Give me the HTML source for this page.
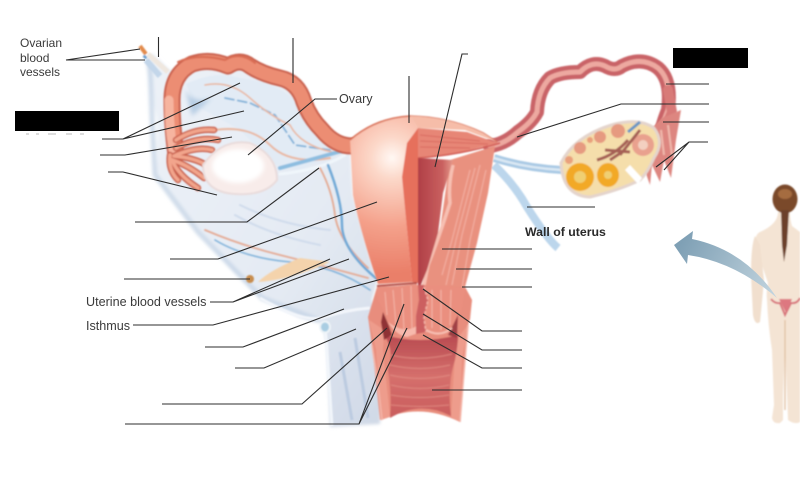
<!DOCTYPE html>
<html><head><meta charset="utf-8"><style>
html,body{margin:0;padding:0;background:#fff}
svg{display:block}
text{font-family:"Liberation Sans",sans-serif;fill:#3a3a3a}
</style></head><body>
<svg width="800" height="485" viewBox="0 0 800 485" xmlns="http://www.w3.org/2000/svg">
<defs>
<filter id="b1" x="-10%" y="-10%" width="120%" height="120%"><feGaussianBlur stdDeviation="0.7"/></filter>
<filter id="b2" x="-20%" y="-20%" width="140%" height="140%"><feGaussianBlur stdDeviation="2"/></filter>
<filter id="b3" x="-10%" y="-10%" width="120%" height="120%"><feGaussianBlur stdDeviation="1.5"/></filter>
<linearGradient id="lig" x1="0" y1="0" x2="1" y2="1"><stop offset="0" stop-color="#edf2f8"/><stop offset=".6" stop-color="#e4eaf3"/><stop offset="1" stop-color="#cfd8e6"/></linearGradient>
<radialGradient id="body" gradientUnits="userSpaceOnUse" cx="392" cy="158" r="115"><stop offset="0" stop-color="#fff8f4"/><stop offset=".18" stop-color="#fcd8c9"/><stop offset=".6" stop-color="#f4a08a"/><stop offset="1" stop-color="#ea7f69"/></radialGradient>
<linearGradient id="cav" x1="0" y1="0" x2="1" y2="0"><stop offset="0" stop-color="#b03f47"/><stop offset=".7" stop-color="#c9605f"/><stop offset="1" stop-color="#e59a8c"/></linearGradient>
<linearGradient id="arrow" gradientUnits="userSpaceOnUse" x1="680" y1="245" x2="778" y2="298"><stop offset="0" stop-color="#7fa0b5"/><stop offset="1" stop-color="#c4d6e0"/></linearGradient>
<linearGradient id="vag" x1="0" y1="0" x2="0" y2="1"><stop offset="0" stop-color="#b84a50"/><stop offset=".5" stop-color="#d56f6c"/><stop offset="1" stop-color="#c95c5c"/></linearGradient>
</defs>

<!-- broad ligament -->
<g filter="url(#b3)">
<path d="M145 62 L157 120 L157 177 L178 205 L200 232 L232 270 L262 298 L300 318 L322 324 L327 345 L330 427 L380 424 L385 330 L372 300 L377 282 L353 195 L350 148 L320 132 L300 92 L270 76 L240 66 L205 62 L180 68 L170 70 L153 53Z" fill="url(#lig)"/>
<path d="M150 64 L152 118 L155 175 L198 232 L262 298 L318 320" fill="none" stroke="#c6d5e6" stroke-width="5" opacity=".8"/>
</g>
<g filter="url(#b1)">
<path d="M325 325 L332 426" fill="none" stroke="#f2f6fb" stroke-width="3"/>
<path d="M260 298 Q300 322 322 318 Q345 310 370 308" fill="none" stroke="#f3f6fb" stroke-width="3"/>
<path d="M340 352 L352 420 M355 338 L368 418" stroke="#bccbe0" stroke-width="3" fill="none"/>
<ellipse cx="325" cy="327" rx="5" ry="5.5" fill="#a9cde2" stroke="#eef4f8" stroke-width="2"/>
<path d="M186 84 Q215 70 240 78 Q275 82 295 100 Q305 125 330 140 L345 150 L300 170 L275 165 L240 130 L195 105Z" fill="#e2ebf5"/>
<path d="M185 88 Q192 105 212 98 L192 116Z" fill="#b7cee4" filter="url(#b2)"/>
<!-- veins -->
<g fill="none" stroke-linecap="round">
<path d="M225 98 L250 103 L275 115 L295 145 L330 150" stroke="#7fb1d8" stroke-width="1.8" stroke-dasharray="9 4"/>
<path d="M205 85 Q230 80 250 98 T290 125 Q300 145 332 152" stroke="#e9b7a0" stroke-width="1.6"/>
<path d="M215 130 Q250 125 270 145 T330 158" stroke="#e9b7a0" stroke-width="2"/>
<path d="M280 168 Q310 160 345 150" stroke="#8dbde0" stroke-width="4"/>
<path d="M280 174 Q320 170 345 155" stroke="#f0f6fb" stroke-width="3"/>
<path d="M320 168 Q332 190 335 215 T368 268" stroke="#e4a991" stroke-width="1.8"/>
<path d="M328 165 Q342 200 342 225 T378 280" stroke="#6fa8d6" stroke-width="2.4"/>
<path d="M205 230 Q240 245 280 255 T368 278" stroke="#e5ab95" stroke-width="1.8"/>
<path d="M215 240 Q245 258 290 262 T370 290" stroke="#80b2da" stroke-width="1.6"/>
<path d="M240 205 Q280 225 330 230" stroke="#d0dcec" stroke-width="2"/>
<path d="M235 215 Q270 235 320 245" stroke="#d0dcec" stroke-width="2"/>
<path d="M258 282 Q290 280 330 262 L300 258 Q270 270 258 282Z" fill="#f4d3ac" stroke="none"/>
</g>
<circle cx="250" cy="279" r="4" fill="#c78c4e"/>
<path d="M140 46 L146 54" stroke="#e28a4c" stroke-width="4"/>
<path d="M144 58 L146 56" stroke="#6a9fd0" stroke-width="4"/>
<path d="M148 54 L168 72" stroke="#efe7df" stroke-width="5"/>
<path d="M146 60 L160 76" stroke="#c3d6ea" stroke-width="6"/>
</g>

<!-- left tube -->
<g filter="url(#b1)" fill="none" stroke-linecap="round" stroke-linejoin="round">
<path d="M352 146 Q335 146 322 130 Q310 118 304 102 Q298 82 280 78 Q262 74 250 66 Q240 58 228 66 Q210 58 192 64 Q172 74 172 100 Q172 125 176 155" stroke="#c9604e" stroke-width="17"/>
<path d="M352 146 Q335 146 322 130 Q310 118 304 102 Q298 82 280 78 Q262 74 250 66 Q240 58 228 66 Q210 58 192 64 Q172 74 172 100 Q172 125 176 155" stroke="#ec8d73" stroke-width="13"/>
<path d="M169 100 Q169 125 173 150" stroke="#f6b49f" stroke-width="9"/>
<path d="M178 62 Q198 53 225 60 Q240 51 255 63" stroke="#d96c52" stroke-width="2"/>
<!-- fimbriae -->
<g stroke="#c9604e" stroke-width="6.5">
<path d="M176 140 Q195 128 214 130"/><path d="M176 148 Q198 136 218 140"/><path d="M176 155 Q198 146 212 150"/><path d="M174 156 Q195 158 206 165"/><path d="M172 160 Q188 165 204 178"/><path d="M172 160 Q178 175 198 188"/><path d="M170 155 Q168 170 178 180"/>
</g>
<g stroke="#f2a58c" stroke-width="3.6">
<path d="M176 140 Q195 128 214 130"/><path d="M176 148 Q198 136 218 140"/><path d="M176 155 Q198 146 212 150"/><path d="M174 156 Q195 158 206 165"/><path d="M172 160 Q188 165 204 178"/><path d="M172 160 Q178 175 198 188"/><path d="M170 155 Q168 170 178 180"/>
</g>
</g>

<!-- left ovary -->
<path d="M203 165 Q222 138 250 143 Q277 155 277 180 Q265 196 235 194 Q203 192 203 165Z" fill="#f8ecea" stroke="#e9dcdc" stroke-width="2" filter="url(#b1)"/>
<ellipse cx="238" cy="166" rx="26" ry="17" fill="#fff" filter="url(#b2)"/>

<!-- right ligaments -->
<g filter="url(#b1)" fill="none">
<path d="M494 158 Q525 168 562 170" stroke="#a9c9e4" stroke-width="8"/>
<path d="M494 158 Q525 168 562 170" stroke="#dce9f4" stroke-width="2.5"/>
<path d="M494 165 Q515 185 527 207 Q548 240 558 248" stroke="#bcd6ec" stroke-width="8"/>
</g>

<!-- right tube -->
<g filter="url(#b1)" fill="none" stroke-linecap="round" stroke-linejoin="round">
<path d="M490 146 Q505 144 518 132 Q532 122 537 112 Q538 90 550 78 Q560 72 580 72 Q592 60 605 66 Q615 72 622 66 Q642 56 658 68 Q672 80 668 110 Q660 130 662 135" stroke="#c96468" stroke-width="14"/>
<path d="M490 146 Q505 144 518 132 Q532 122 537 112 Q538 90 550 78 Q560 72 580 72 Q592 60 605 66 Q615 72 622 66 Q642 56 658 68 Q672 80 668 110 Q660 130 662 135" stroke="#eda9a0" stroke-width="5"/>
<path d="M668 90 L672 112 L664 132" stroke="#d87a78" stroke-width="10"/>
</g>
<g filter="url(#b1)">
<path d="M662 118 L681 110 L676 140 L671 178 L664 160 L660 182 L652 165 L650 185 L644 168 L650 130Z" fill="#dd8680"/>
<path d="M668 125 L672 155 M661 130 L664 155" stroke="#f0b9ad" stroke-width="2" fill="none"/>
</g>

<!-- right ovary -->
<g filter="url(#b1)">
<path d="M561 163 Q575 135 615 124 Q640 118 654 128 Q665 142 654 158 Q648 172 640 180 Q620 190 590 197 Q563 196 561 163Z" fill="#f5deab" stroke="#e4d4cc" stroke-width="3"/>
<circle cx="618" cy="131" r="7" fill="#e69a80"/><circle cx="600" cy="137" r="6" fill="#e69a80"/>
<circle cx="580" cy="148" r="6" fill="#e69a80"/><circle cx="590" cy="140" r="3" fill="#e9a07c"/><circle cx="569" cy="160" r="4" fill="#e9a07c"/>
<circle cx="643" cy="145" r="11" fill="#e9a18e"/><circle cx="643" cy="145" r="5" fill="#f3d0c0"/>
<path d="M597 160 Q615 155 628 140 M610 160 L625 150 M620 155 L640 130 M605 150 L630 152" stroke="#a55e55" stroke-width="3" fill="none"/>
<path d="M628 132 L640 122" stroke="#6a96c4" stroke-width="3"/>
<circle cx="580" cy="177" r="14" fill="#f2a927"/><circle cx="580" cy="177" r="6" fill="#f0cf72"/>
<ellipse cx="608" cy="175" rx="11" ry="12" fill="#f2a927"/><circle cx="608" cy="175" r="4" fill="#f0cf72"/>
<path d="M630 165 L642 178 L638 184 L625 170Z" fill="#fff"/>
</g>

<!-- uterus -->
<g filter="url(#b1)">
<path d="M450 160 L495 146 L488 193 L477 243 L465 287 L472 300 L470 320 L440 335 L420 330 L420 290 L427 270 L440 230Z" fill="#e9917f"/>
<g stroke="#f2aea0" stroke-width="1.2" fill="none">
<path d="M470 170 L452 240 L442 275M480 165 L462 235 L452 285M486 170 L470 240 L460 300M475 168 L456 240 L446 285"/>
</g>
<path d="M453 165 Q448 185 450 203 Q438 240 428 265 L424 285" fill="none" stroke="#f7c0b2" stroke-width="3.5"/>
<path d="M350 140 Q375 118 410 116 L418 128 L407 143 L402 177 L412 282 L378 284 Q360 230 353 195Z" fill="url(#body)"/>
<path d="M350 140 Q375 118 410 116 Q450 117 483 133 L497 142" fill="none" stroke="#d96f55" stroke-width="1.6"/>
<path d="M410 116 Q450 117 483 133 L497 142 L465 130 L418 128Z" fill="#f6bda9"/>
<path d="M418 128 L407 143 L402 177 L412 282 L418 283 L418 158Z" fill="#e66f5c"/>
<path d="M418 128 L467 132 L497 143 Q470 150 450 155 L418 158Z" fill="#e78676"/>
<g stroke="#d96a60" stroke-width="1"><path d="M420 135 L480 141M420 141 L488 144M420 147 L470 148"/></g>
<path d="M418 158 Q460 155 500 143" stroke="#d25c55" stroke-width="1.5" fill="none"/>
<path d="M418 158 L453 160 Q447 180 443 193 L438 233 L427 270 L420 287 L418 287Z" fill="url(#cav)"/>
<path d="M377 286 L417 283" stroke="#b45048" stroke-width="2"/>
<path d="M377 287 L368 317 L372 345 L380 420 Q420 402 460 422 L468 327 L472 300 L465 287 L420 285Z" fill="#e88d7d"/>
<path d="M369 320 L376 350 L381 420 L390 417 L383 350 L384 330Z" fill="#ee9c8c"/>
<path d="M468 325 L462 360 L460 422 L451 417 L456 340Z" fill="#ee9c8c"/>
<path d="M384 335 Q395 350 388 370 Q392 395 390 418 Q420 400 451 416 Q447 385 455 360 Q458 345 458 335 Q420 345 384 335Z" fill="url(#vag)"/>
<g stroke="#e49086" stroke-width="1" fill="none" opacity=".8">
<path d="M391 355 Q420 362 452 354M390 365 Q420 372 450 365M390 375 Q420 382 450 375M391 385 Q420 392 449 385M391 395 Q420 400 449 395M391 405 Q420 408 449 405"/>
</g>
<path d="M377 288 L417 284 L418 333 L407 337 Q396 335 388 322 L385 312 L378 300Z" fill="#ea8f7f"/>
<path d="M425 285 L465 288 L460 317 Q453 335 440 335 L425 332Z" fill="#ea8f7f"/>
<path d="M383 312 L389 326 L392 335 L384 340 L381 322Z" fill="#8f3035"/>
<path d="M458 315 L457 338 L448 335Z" fill="#a04045"/>
<g stroke="#f4b6a9" stroke-width="1" fill="none">
<path d="M385 292 L387 315M393 290 L396 325M402 288 L404 330M411 286 L412 330M432 290 L432 328M441 290 L441 330M451 290 L450 325"/>
</g>
<path d="M388 322 Q396 335 407 337 L418 333 L418 325 Q405 335 388 322Z" fill="#f7b9ac"/>
<path d="M426 330 Q440 338 452 328" stroke="#f7c0b4" stroke-width="2" fill="none"/>
<path d="M418 285 L424 285 L428 300 L424 318 L426 332 L416 334 L416 316 L419 300Z" fill="#cc5e60"/>
<path d="M424 287 L428 300 L424 318 L426 332" stroke="#f4b6a9" stroke-width="1.5" fill="none" stroke-dasharray="3 2"/>
<path d="M372 345 L378 385 L382 420M468 325 L464 372 L460 422" stroke="#f4b6a9" stroke-width="1.6" fill="none"/>
</g>

<!-- figure -->
<g filter="url(#b1)">
<path d="M778 212 Q778 224 760 232 Q755 234 755 245 L768 283 Q766 292 767 300 Q768 325 772 350 L774 405 L772 418 Q773 424 780 423 L783 420 L783 395 L785 345 L787 395 L788 420 Q795 425 800 422 L800 232 L792 226 Q790 220 790 212Z" fill="#f4e4d4"/>
<path d="M755 236 Q751 245 751 275 L753 315 Q755 326 760 322 L761 312 L764 280 L760 245Z" fill="#f1dfce"/>
<path d="M785 320 L785 350 L785 410" stroke="#e2c3a6" stroke-width="1.4" fill="none"/>
<ellipse cx="785" cy="199" rx="12.5" ry="14.5" fill="#7a4a2a"/>
<path d="M781 210 L782 245 L784 262 L787 245 L789 210Z" fill="#6c412a"/>
<ellipse cx="785" cy="194" rx="7" ry="5" fill="#a56c40"/>
<path d="M771 299 Q775 304 780 303 L785 315 L791 303 Q797 304 800 298" fill="none" stroke="#d8757b" stroke-width="2"/>
<path d="M779 299 L792 299 L786 313Z" fill="#dd7880"/>
</g>

<!-- arrow -->
<path d="M674 245 L693 231 L692 239 Q745 250 777 298 Q735 262 688 255 L687 264Z" fill="url(#arrow)"/>

<!-- leader lines -->
<g fill="none" stroke="#2c2c2c" stroke-width="1.1">
<path d="M66 60 L140 49M66 60 L145 60"/>
<path d="M158.5 37V57M293 38V83"/>
<path d="M337 99H315L248 155"/>
<path d="M102 139H123L240 83M123 139L244 111"/>
<path d="M100 155H125L232 137"/>
<path d="M108 172H123L217 195"/>
<path d="M135 222H247L319 168"/>
<path d="M170 259H218L377 202"/>
<path d="M124 279H250"/>
<path d="M210 302H233L330 259M233 302L349 259"/>
<path d="M133 325H213L389 277"/>
<path d="M205 347H243L344 309"/>
<path d="M235 368H264L356 329"/>
<path d="M162 404H302L387 328"/>
<path d="M125 424H359L404 304M359 424L407 328"/>
<path d="M442 249H532M456 269H532M462 287H532"/>
<path d="M423 289L482 331H522M423 314L482 350H522M423 335L482 368H522"/>
<path d="M432 390H522"/>
<path d="M409 76V123"/>
<path d="M468 54H462L435 167"/>
<path d="M666 84H709M709 104H621L517 137M663 122H709"/>
<path d="M708 142H689L656 167M689 142L664 170"/>
<path d="M527 207H595"/>
</g>

<!-- masks -->
<rect x="15" y="111" width="104" height="20" fill="#000"/>
<rect x="673" y="48" width="75" height="20" fill="#000"/>
<path d="M26 134h3M36 134h3M48 134h8M66 134h6M80 134h4" stroke="#bbb" stroke-width="1"/>

<!-- labels -->
<text x="20" y="47" font-size="12">Ovarian</text>
<text x="20" y="62" font-size="12">blood</text>
<text x="20" y="76" font-size="12">vessels</text>
<text x="339" y="103" font-size="12.6">Ovary</text>
<text x="86" y="306" font-size="12.6">Uterine blood vessels</text>
<text x="86" y="330" font-size="12.6">Isthmus</text>
<text x="525" y="236" font-size="12.3" font-weight="bold" style="fill:#2a2a2a">Wall of uterus</text>
</svg>
</body></html>
